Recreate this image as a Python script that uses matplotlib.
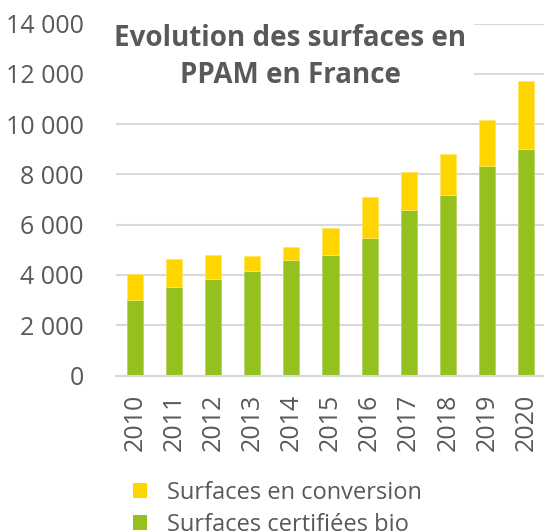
import matplotlib
matplotlib.use('Agg')
import matplotlib.pyplot as plt
from matplotlib.patches import Patch
from matplotlib.transforms import Bbox, TransformedBbox

years = ['2010', '2011', '2012', '2013', '2014', '2015', '2016', '2017', '2018', '2019', '2020']
certifiees = [3010, 3530, 3820, 4140, 4600, 4800, 5480, 6580, 7160, 8320, 9020]
conversion = [1040, 1090, 970, 610, 500, 1070, 1620, 1520, 1650, 1850, 2700]
yticks = [0, 2000, 4000, 6000, 8000, 10000, 12000, 14000]

label_conv = 'Surfaces en conversion totale'
label_cert = 'Surfaces certifiées bio'
title = 'Evolution des surfaces en\nPPAM en France'

green = '#95C11F'
yellow = '#FFD500'
grey_txt = '#595959'
grey_grid = '#D9D9D9'

plt.rcParams['font.family'] = ['Open Sans', 'DejaVu Sans']

W, H = 544, 532
fig = plt.figure(figsize=(W / 100, H / 100), dpi=100)
ax = fig.add_axes([115.5 / W, 156.5 / H, 430 / W, 352 / H])

x = list(range(len(years)))
ax.bar(x, certifiees, width=0.41, color=green, edgecolor='#B5D36A', linewidth=0.6, zorder=2)
ax.bar(x, conversion, bottom=certifiees, width=0.41, color=yellow,
       edgecolor='#FFE566', linewidth=0.6, zorder=2)

ax.set_xlim(-0.5, len(years) - 0.5)
ax.set_ylim(0, 14000)
ax.set_yticks(yticks)
ax.set_yticklabels([f'{v:,}'.replace(',', ' ') for v in yticks])
ax.set_xticks(x)
ax.set_xticklabels(years, rotation=90)
ax.tick_params(axis='y', length=0, pad=23, labelsize=18, labelcolor=grey_txt)
ax.tick_params(axis='x', length=0, pad=13, labelsize=18, labelcolor=grey_txt)

ax.yaxis.grid(True, color=grey_grid, linewidth=1.5, zorder=0)
ax.set_axisbelow(True)
for s in ['left', 'right', 'top']:
    ax.spines[s].set_visible(False)
ax.spines['bottom'].set_color(grey_grid)
ax.spines['bottom'].set_linewidth(1.5)

fig.text(290 / W, 1 - 57 / H, title, ha='center', va='center', fontsize=20,
         fontweight='bold', color=grey_txt, linespacing=1.35,
         bbox=dict(facecolor='white', edgecolor='none', pad=6))

handles = [Patch(facecolor=yellow), Patch(facecolor=green)]
leg = fig.legend(handles, [label_conv, label_cert], loc='upper left',
                 bbox_to_anchor=(132.5 / W, 1 - 481 / H), frameon=False,
                 fontsize=17, labelcolor=grey_txt, handlelength=0.6, handleheight=0.6,
                 handletextpad=0.85, labelspacing=0.32, borderpad=0, borderaxespad=0)
clip = TransformedBbox(Bbox([[0, 0], [426 / W, 1]]), fig.transFigure)
for t in leg.get_texts():
    t.set_clip_box(clip)
    t.set_clip_on(True)

fig.savefig('out.png', dpi=100)
